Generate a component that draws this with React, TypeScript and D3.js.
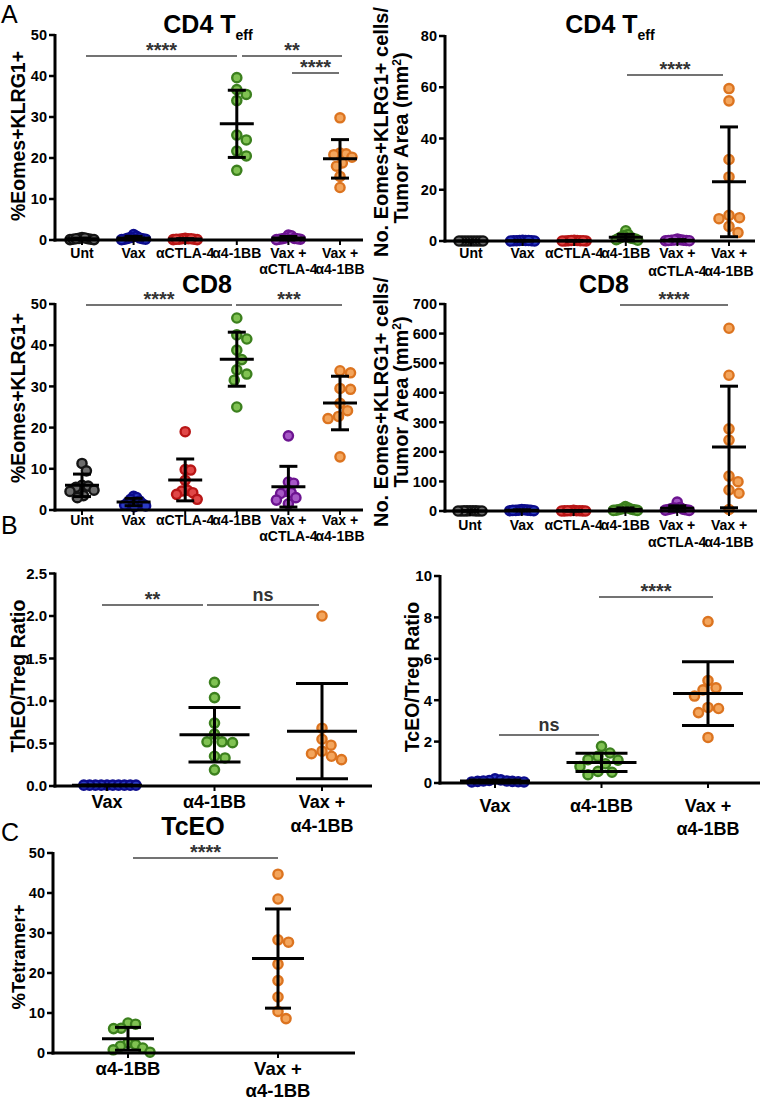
import React from 'react';
import * as d3 from 'd3';

document.body.style.margin = '0';

const FONT = '"Liberation Sans", Arial, Helvetica, sans-serif';

// Category labels (each entry = lines of the label)
const catsSix = [['Unt'], ['Vax'], ['αCTLA-4'], ['α4-1BB'], ['Vax +', 'αCTLA-4'], ['Vax +', 'α4-1BB']];
const catsThree = [['Vax'], ['α4-1BB'], ['Vax +', 'α4-1BB']];
const catsTwo = [['α4-1BB'], ['Vax +', 'α4-1BB']];

const colorsSix = ['black', 'blue', 'red', 'green', 'purple', 'orange'];
const colorsThree = ['blue', 'green', 'orange'];
const colorsTwo = ['green', 'orange'];

// CD4 Teff %Eomes+KLRG1+
const cd4Pct = [
  [0.6, 0.4, 0.3, 0.2, 0.1, 0.1, 0.2, 0.3, 0.5],
  [1.3, 0.9, 0.6, 0.4, 0.3, 0.2, 0.2, 0.5, 0.1],
  [0.4, 0.3, 0.3, 0.2, 0.2, 0.1, 0.1, 0.3, 0.2],
  [39.6, 36.7, 35.5, 34.0, 25.6, 24.4, 21.7, 20.5, 17.0],
  [1.2, 1.0, 0.5, 0.4, 0.3, 0.2, 0.2, 0.3, 0.1],
  [29.8, 21.2, 21.0, 20.8, 20.2, 18.8, 18.0, 15.5, 12.8],
];
// CD4 Teff No. cells / tumor area
const cd4Count = [
  [0, 0, 0, 0, 0, 0, 0, 0, 0],
  [0.3, 0.2, 0.2, 0.1, 0.1, 0.1, 0, 0, 0.2],
  [0.3, 0.2, 0.1, 0.1, 0, 0, 0.1, 0.2, 0],
  [4.0, 2.5, 2.0, 1.5, 1.2, 1.0, 1.0, 0.8, 0.5, 0.3],
  [0.8, 0.5, 0.3, 0.2, 0.1, 0.1, 0.3, 0.4, 0.2],
  [59.5, 54.7, 31.8, 25.0, 10.0, 9.1, 8.7, 5.7, 3.3],
];
// CD8 %Eomes+KLRG1+
const cd8Pct = [
  [11.3, 9.5, 6.0, 5.8, 5.5, 4.8, 4.5, 3.5, 3.0],
  [3.3, 3.0, 2.6, 2.2, 1.8, 1.5, 1.2, 1.0, 0.8],
  [19.0, 9.8, 9.7, 7.2, 4.8, 4.6, 4.2, 3.8, 2.6],
  [46.6, 42.5, 41.5, 38.8, 36.5, 34.0, 33.0, 31.5, 25.0],
  [18.0, 6.8, 6.5, 4.5, 4.2, 4.0, 3.0, 2.4, 1.5],
  [33.8, 33.3, 29.5, 29.3, 25.9, 24.1, 22.7, 22.2, 12.9],
];
// CD8 No. cells / tumor area
const cd8Count = [
  [1, 1, 0.5, 0.5, 0, 0, 0, 0.5, 0],
  [5, 4, 3, 3, 2, 2, 1, 1, 2],
  [2, 1, 1, 1, 0.5, 0.5, 0, 0, 1],
  [15, 10, 8, 6, 5, 4, 3, 2, 2],
  [30, 12, 10, 8, 6, 5, 4, 3, 2],
  [618, 459, 278, 240, 118, 99, 71, 60, 5],
];
// ThEO/Treg ratio
const thRatio = [
  [0.01, 0.01, 0.01, 0.01, 0.01, 0.01, 0.01, 0.01, 0.01, 0.01],
  [1.22, 1.04, 0.74, 0.61, 0.52, 0.51, 0.52, 0.35, 0.33, 0.19],
  [2.0, 0.68, 0.55, 0.48, 0.41, 0.38, 0.35, 0.31],
];
// TcEO/Treg ratio
const tcRatio = [
  [0.2, 0.15, 0.12, 0.1, 0.08, 0.06, 0.05, 0.05, 0.08, 0.1],
  [1.77, 1.45, 1.29, 1.13, 1.1, 0.93, 0.8, 0.56, 0.52, 0.4],
  [7.8, 4.95, 4.6, 4.5, 4.2, 3.6, 3.65, 3.4, 2.2],
];
// TcEO %Tetramer+
const tetramer = [
  [7.5, 7.2, 6.2, 6.1, 2.5, 2.1, 1.7, 1.25, 0.8, 0.2],
  [44.7, 38.5, 28.3, 27.7, 22.2, 18.1, 14.0, 10.4, 8.6],
];

const ticksCd4Pct = [0, 10, 20, 30, 40, 50];
const ticksCd4Count = [0, 20, 40, 60, 80];
const ticksCd8Pct = [0, 10, 20, 30, 40, 50];
const ticksCd8Count = [0, 100, 200, 300, 400, 500, 600, 700];
const ticksTh = [0, 0.5, 1.0, 1.5, 2.0, 2.5];
const ticksTc = [0, 2, 4, 6, 8, 10];
const ticksTet = [0, 10, 20, 30, 40, 50];

const palette: Record<string, { dark: string; light: string }> = {
  black: { dark: '#141414', light: '#6c6c6c' },
  blue: { dark: '#0c0c8c', light: '#2c3cc4' },
  red: { dark: '#b81616', light: '#e04848' },
  green: { dark: '#3c801e', light: '#80c252' },
  purple: { dark: '#6c1490', light: '#a658c6' },
  orange: { dark: '#dc7420', light: '#f3a55c' },
};

interface Bracket { x1: number; x2: number; y: number; label: string }

interface Layout {
  axisX: number; xEnd: number; y0: number; yTop: number;
  c0: number; c1: number;
  tickFont: number; catFont: number; catRows: number[];
  meanHalf: number; capHalf: number; spread: number;
  fmt?: string;
}

// simple beeswarm: closest free horizontal offset, compressed into the group's width
const swarm = (vals: number[], y: (v: number) => number, d: number, maxHalf: number) => {
  const order = d3.range(vals.length).sort((a, b) => vals[b] - vals[a]);
  const placed: { x: number; y: number }[] = [];
  const off = new Array(vals.length).fill(0);
  for (const i of order) {
    const py = y(vals[i]);
    let chosen = 0;
    for (let k = 0; k < 600; k++) {
      const cand = k === 0 ? 0 : (k % 2 === 1 ? 1 : -1) * Math.ceil(k / 2) * 0.5;
      if (placed.every(p => (p.x - cand) ** 2 + (p.y - py) ** 2 >= d * d)) { chosen = cand; break; }
    }
    placed.push({ x: chosen, y: py });
    off[i] = chosen;
  }
  const m = d3.max(off, (o: number) => Math.abs(o)) || 0;
  const s = m > maxHalf ? maxHalf / m : 1;
  return off.map(o => o * s);
};

const Panel: React.FC<{
  data: number[][]; cats: string[][]; colors: string[]; ticks: number[];
  layout: Layout; brackets: Bracket[];
}> = ({ data, cats, colors, ticks, layout, brackets }) => {
  const L = layout;
  const y = d3.scaleLinear().domain([0, ticks[ticks.length - 1]]).range([L.y0, L.yTop]);
  const x = d3.scalePoint<number>().domain(d3.range(cats.length)).range([L.c0, L.c1]);
  const fmt = L.fmt ? d3.format(L.fmt) : (v: number) => String(v);

  return (
    <g>
      {data.map((vals, gi) => {
        const cx = x(gi)!;
        const offs = swarm(vals, y, 10.5, L.spread);
        const c = palette[colors[gi]];
        const mean = d3.mean(vals)!;
        const sd = d3.deviation(vals) || 0;
        return (
          <g key={gi}>
            {vals.map((v, i) => (
              <circle key={i} cx={cx + offs[i]} cy={y(v)} r={4.6}
                fill={c.light} stroke={c.dark} strokeWidth={2.4} />
            ))}
            <line x1={cx} x2={cx} y1={y(mean - sd)} y2={y(mean + sd)} stroke="#000" strokeWidth={3} />
            <line x1={cx - L.capHalf} x2={cx + L.capHalf} y1={y(mean + sd)} y2={y(mean + sd)} stroke="#000" strokeWidth={3} />
            <line x1={cx - L.capHalf} x2={cx + L.capHalf} y1={y(mean - sd)} y2={y(mean - sd)} stroke="#000" strokeWidth={3} />
            <line x1={cx - L.meanHalf} x2={cx + L.meanHalf} y1={y(mean)} y2={y(mean)} stroke="#000" strokeWidth={3} />
          </g>
        );
      })}

      <line x1={L.axisX} x2={L.axisX} y1={y(ticks[ticks.length - 1]) - 1} y2={L.y0 + 1.5} stroke="#000" strokeWidth={3} />
      <line x1={L.axisX - 1.5} x2={L.xEnd} y1={L.y0} y2={L.y0} stroke="#000" strokeWidth={3} />
      {ticks.map(t => (
        <g key={t}>
          <line x1={L.axisX - 6} x2={L.axisX} y1={y(t)} y2={y(t)} stroke="#000" strokeWidth={2.5} />
          <text x={L.axisX - 8} y={y(t)} dy="0.36em" textAnchor="end" fontSize={L.tickFont}
            fontWeight="bold" fontFamily={FONT}>{fmt(t)}</text>
        </g>
      ))}
      {cats.map((lines, gi) => (
        <g key={gi}>
          <line x1={x(gi)!} x2={x(gi)!} y1={L.y0} y2={L.y0 + 5} stroke="#000" strokeWidth={2} />
          {lines.map((ln, j) => (
            <text key={j} x={x(gi)!} y={L.catRows[j]} textAnchor="middle" fontSize={L.catFont}
              fontWeight="bold" fontFamily={FONT}>{ln}</text>
          ))}
        </g>
      ))}

      {brackets.map((b, i) => {
        const stars = b.label.startsWith('*');
        return (
          <g key={i}>
            <line x1={b.x1} x2={b.x2} y1={b.y} y2={b.y} stroke="#444" strokeWidth={1.3} />
            <text x={(b.x1 + b.x2) / 2} y={stars ? b.y + 1 : b.y - 4} textAnchor="middle"
              fontSize={stars ? 20 : 18} fontWeight="bold" fill="#333" fontFamily={FONT}>{b.label}</text>
          </g>
        );
      })}
    </g>
  );
};

const YLabel: React.FC<{ x: number; y: number; size?: number; children: React.ReactNode }> = ({ x, y, size = 19.5, children }) => (
  <text transform={`translate(${x},${y}) rotate(-90)`} textAnchor="middle" fontSize={size}
    fontWeight="bold" fontFamily={FONT}>{children}</text>
);

const Title: React.FC<{ x: number; y: number; text: string; sub?: string }> = ({ x, y, text, sub }) => (
  <text x={x} y={y} textAnchor="middle" fontSize={25} fontWeight="bold" fontFamily={FONT}>
    {text}
    {sub && <tspan fontSize={14} dy={7}>{sub}</tspan>}
  </text>
);

const layoutA = (axisX: number, xEnd: number, y0: number, yTop: number, c0: number, c1: number, rows: number[]): Layout => ({
  axisX, xEnd, y0, yTop, c0, c1, tickFont: 14.5, catFont: 14, catRows: rows,
  meanHalf: 17, capHalf: 9, spread: 12,
});

export default function App() {
  return (
    <svg width={765} height={1100} viewBox="0 0 765 1100" style={{ display: 'block', background: '#fff' }}>
      <text x={1} y={23} fontSize={25} fontFamily={FONT}>A</text>
      <text x={1} y={534} fontSize={25} fontFamily={FONT}>B</text>
      <text x={1} y={841} fontSize={25} fontFamily={FONT}>C</text>

      {/* A top-left */}
      <Title x={208} y={33} text="CD4 T" sub="eff" />
      <YLabel x={25} y={136}>%Eomes+KLRG1+</YLabel>
      <Panel data={cd4Pct} cats={catsSix} colors={colorsSix} ticks={ticksCd4Pct}
        layout={layoutA(55, 363, 240, 35, 82, 340, [258, 274])}
        brackets={[
          { x1: 86, x2: 237, y: 56, label: '****' },
          { x1: 242, x2: 342, y: 56, label: '**' },
          { x1: 292, x2: 339, y: 73, label: '****' },
        ]} />

      {/* A top-right */}
      <Title x={610} y={33} text="CD4 T" sub="eff" />
      <YLabel x={388} y={132} size={20}>No. Eomes+KLRG1+ cells/</YLabel>
      <YLabel x={408} y={138} size={20}>Tumor Area (mm<tspan fontSize={12} dy={-7}>2</tspan><tspan dy={7}>)</tspan></YLabel>
      <Panel data={cd4Count} cats={catsSix} colors={colorsSix} ticks={ticksCd4Count}
        layout={layoutA(445, 755, 241, 36, 471, 729, [258, 276])}
        brackets={[{ x1: 627, x2: 723, y: 75, label: '****' }]} />

      {/* A bottom-left */}
      <Title x={207} y={293} text="CD8" />
      <YLabel x={25} y={398}>%Eomes+KLRG1+</YLabel>
      <Panel data={cd8Pct} cats={catsSix} colors={colorsSix} ticks={ticksCd8Pct}
        layout={layoutA(55, 363, 510, 304, 82, 340, [525, 541])}
        brackets={[
          { x1: 86, x2: 232, y: 305, label: '****' },
          { x1: 236, x2: 342, y: 305, label: '***' },
        ]} />

      {/* A bottom-right */}
      <Title x={604} y={293} text="CD8" />
      <YLabel x={388} y={402} size={20}>No. Eomes+KLRG1+ cells/</YLabel>
      <YLabel x={408} y={402} size={20}>Tumor Area (mm<tspan fontSize={12} dy={-7}>2</tspan><tspan dy={7}>)</tspan></YLabel>
      <Panel data={cd8Count} cats={catsSix} colors={colorsSix} ticks={ticksCd8Count}
        layout={layoutA(445, 757, 511, 304, 470, 729, [530, 547])}
        brackets={[{ x1: 620, x2: 728, y: 305, label: '****' }]} />

      {/* B left */}
      <YLabel x={25} y={676}>ThEO/Treg Ratio</YLabel>
      <Panel data={thRatio} cats={catsThree} colors={colorsThree} ticks={ticksTh}
        layout={{
          axisX: 55, xEnd: 372, y0: 786, yTop: 573.5, c0: 107, c1: 322,
          tickFont: 15, catFont: 18, catRows: [808, 832], meanHalf: 35, capHalf: 26, spread: 29, fmt: '.1f',
        }}
        brackets={[
          { x1: 102, x2: 203, y: 605, label: '**' },
          { x1: 207, x2: 319, y: 605, label: 'ns' },
        ]} />

      {/* B right */}
      <YLabel x={419} y={677}>TcEO/Treg Ratio</YLabel>
      <Panel data={tcRatio} cats={catsThree} colors={colorsThree} ticks={ticksTc}
        layout={{
          axisX: 440, xEnd: 760, y0: 783, yTop: 576, c0: 495, c1: 708,
          tickFont: 15, catFont: 18, catRows: [812, 835], meanHalf: 35, capHalf: 26, spread: 29,
        }}
        brackets={[
          { x1: 499, x2: 599, y: 735, label: 'ns' },
          { x1: 599, x2: 713, y: 597, label: '****' },
        ]} />

      {/* C */}
      <Title x={193} y={835} text="TcEO" />
      <YLabel x={25} y={957} size={18.5}>%Tetramer+</YLabel>
      <Panel data={tetramer} cats={catsTwo} colors={colorsTwo} ticks={ticksTet}
        layout={{
          axisX: 53, xEnd: 355, y0: 1053, yTop: 853, c0: 128, c1: 278,
          tickFont: 14.5, catFont: 18.5, catRows: [1075, 1097], meanHalf: 26, capHalf: 13, spread: 22,
        }}
        brackets={[{ x1: 133, x2: 278, y: 858, label: '****' }]} />
    </svg>
  );
}
